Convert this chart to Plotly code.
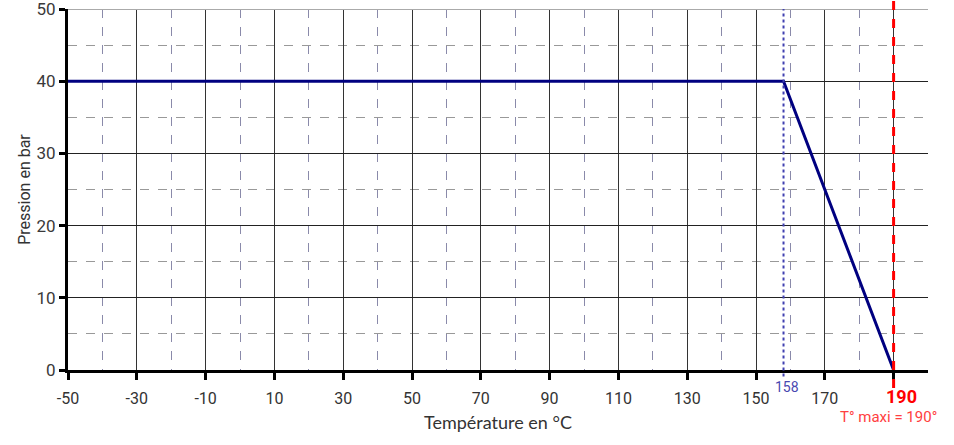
import plotly.graph_objects as go

temps = [-50, 158, 190]
pressures = [40, 40, 0]
x_major = [-50, -30, -10, 10, 30, 50, 70, 90, 110, 130, 150, 170, 190]
x_labels = ["-50", "-30", "-10", "10", "30", "50", "70", "90", "110", "130", "150", "170", ""]
y_ticks = [0, 10, 20, 30, 40, 50]
knee_temp = 158
max_temp = 190

fig = go.Figure()
fig.add_trace(go.Scatter(x=temps, y=pressures, mode="lines",
                         line=dict(color="#000080", width=3), hoverinfo="skip",
                         showlegend=False))

fig.update_xaxes(range=[-50, 200], tickvals=x_major, ticktext=x_labels,
                 showgrid=True, gridcolor="#333333", gridwidth=1,
                 minor=dict(tick0=-40, dtick=20, showgrid=True, gridcolor="#8a8aaa",
                            griddash="dash", gridwidth=1, ticks=""),
                 showline=True, linecolor="black", linewidth=3,
                 ticks="outside", ticklen=7, tickwidth=3, tickcolor="black",
                 ticklabelstandoff=5, automargin=False,
                 tickfont=dict(family="Roboto", size=16, color="#333333"),
                 title=dict(text="Température en °C", standoff=10,
                            font=dict(family="Lato", size=18, color="#333333")),
                 zeroline=False, fixedrange=True)
fig.update_yaxes(range=[0, 50], tickmode="array", tickvals=y_ticks,
                 ticktext=[str(v) for v in y_ticks],
                 showgrid=True, gridcolor="#222222", gridwidth=1,
                 minor=dict(tick0=5, dtick=10, showgrid=True, gridcolor="#999999",
                            griddash="dash", gridwidth=1, ticks=""),
                 showline=True, linecolor="black", linewidth=3,
                 ticks="outside", ticklen=6, tickwidth=3, tickcolor="black",
                 ticklabeloverflow="allow", automargin=False,
                 tickfont=dict(family="Roboto", size=17, color="#3a3a3a"),
                 title=dict(text="Pression en bar", standoff=2,
                            font=dict(family="Roboto", size=16, color="#333333")),
                 zeroline=False, fixedrange=True)

# top border
fig.add_shape(type="line", xref="x", yref="y", x0=-50, x1=200, y0=50, y1=50,
              line=dict(color="#aaaaaa", width=2))
# knee marker
fig.add_shape(type="line", xref="x", yref="paper", x0=knee_temp, x1=knee_temp,
              y0=-0.018, y1=1, line=dict(color="#4040b0", width=2, dash="dot"))
# max temperature marker
fig.add_shape(type="line", xref="x", yref="paper", x0=max_temp, x1=max_temp,
              y0=-0.05, y1=1.03, line=dict(color="red", width=3, dash="dash"))

fig.add_annotation(x=knee_temp, y=-0.02, xref="x", yref="paper", text=str(knee_temp),
                   showarrow=False, yanchor="top", xshift=3,
                   font=dict(family="Roboto", size=14, color="#4848b0"))
fig.add_annotation(x=max_temp, y=-0.038, xref="x", yref="paper", text="<b>190</b>",
                   showarrow=False, yanchor="top", xshift=8,
                   font=dict(family="Roboto", size=18, color="red"))
fig.add_annotation(x=max_temp, y=-0.1, xref="x", yref="paper", text="T° maxi = 190°",
                   showarrow=False, yanchor="top", xshift=-5,
                   font=dict(family="Roboto", size=15, color="#ff4040"))

fig.update_layout(width=954, height=445, margin=dict(l=68, r=26, t=9, b=75),
                  plot_bgcolor="white", paper_bgcolor="white")
fig.write_html("out.html")
